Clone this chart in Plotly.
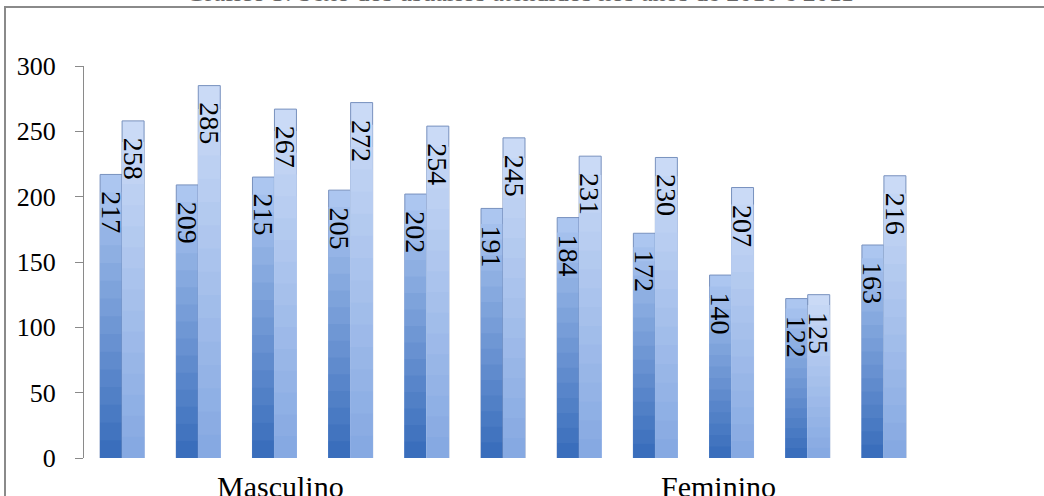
import plotly.graph_objects as go

# ---- data ----
groups = ["Grupo 1", "Grupo 2", "Grupo 3", "Grupo 4", "Grupo 5", "Grupo 6",
          "Grupo 7", "Grupo 8", "Grupo 9", "Grupo 10", "Grupo 11"]
series_names = ["Série 1", "Série 2"]
serie1 = [217, 209, 215, 205, 202, 191, 184, 172, 140, 122, 163]
serie2 = [258, 285, 267, 272, 254, 245, 231, 230, 207, 125, 216]
sex_labels = ["Masculino", "Feminino"]
y_ticks = [0, 50, 100, 150, 200, 250, 300]
title_text = "Gráfico 3. Sexo dos usuários atendidos nos anos de 2010 e 2011"

# ---- styling ----
W, H = 1044, 496
ML, MR, MT, MB = 84, 122, 66, 38
FONT = "Liberation Serif, Times New Roman, serif"

# gradient (top colour -> bottom colour) for each series
grad = [((0xAC, 0xC6, 0xF0), (0x3A, 0x6E, 0xBC)),
        ((0xCA, 0xDA, 0xF6), (0x86, 0xA9, 0xE2))]
STEPS = 16


def mix(c1, c2, t):
    return "rgb(%d,%d,%d)" % tuple(round(a + (b - a) * t) for a, b in zip(c1, c2))


fig = go.Figure()
for si, vals in enumerate([serie1, serie2]):
    top_c, bot_c = grad[si]
    for k in range(STEPS):
        frac = 1 - k / STEPS
        fig.add_trace(go.Bar(
            x=groups,
            y=[v * frac for v in vals],
            name=series_names[si],
            offsetgroup=str(si),
            marker=dict(color=mix(top_c, bot_c, k / (STEPS - 1)),
                        line=dict(width=1 if k == 0 else 0, color="rgb(120,145,190)")),
            showlegend=False,
            hoverinfo="skip" if k else None,
        ))

# value labels (rotated, inside the top of each bar)
for si, vals in enumerate([serie1, serie2]):
    for g, v in zip(groups, vals):
        fig.add_annotation(
            x=g, y=v, xref="x", yref="y",
            text=str(v), textangle=90, showarrow=False,
            xshift=-11 if si == 0 else 11, yshift=-15,
            yanchor="top", xanchor="center",
            font=dict(family=FONT, size=28, color="black"),
        )

pw, ph = W - ML - MR, H - MT - MB

# sex labels under the bars
for lab, px in zip(sex_labels, [280, 718]):
    fig.add_annotation(
        x=(px - ML) / pw, y=(H - MB - 468) / ph,
        xref="paper", yref="paper", text=lab, showarrow=False,
        xanchor="center", yanchor="top",
        font=dict(family=FONT, size=30, color="black"),
    )

# title (cut off at the top of the image)
fig.add_annotation(
    x=(520 - ML) / pw, y=(H - MB - 9.5) / ph,
    xref="paper", yref="paper", text=title_text, showarrow=False,
    xanchor="center", yanchor="bottom",
    font=dict(family=FONT, size=26, color="#666666"),
)

# chart-area frame
fig.add_shape(type="rect", xref="paper", yref="paper",
              x0=(5 - ML) / pw, x1=1.5, y0=-0.5, y1=(H - MB - 7) / ph,
              line=dict(color="#8a8a8a", width=2), fillcolor="rgba(0,0,0,0)")

fig.update_layout(
    width=W, height=H,
    margin=dict(l=ML, r=MR, t=MT, b=MB, pad=0),
    barmode="group", bargap=0.4226, bargroupgap=0,
    plot_bgcolor="white", paper_bgcolor="white",
    showlegend=False,
    font=dict(family=FONT, color="black"),
)
fig.update_xaxes(type="category", showticklabels=False, showline=False, showgrid=False,
                 zeroline=False, ticks="")
fig.update_yaxes(range=[0, 300], tickvals=y_ticks, showgrid=False, zeroline=False,
                 showline=True, linecolor="#8a8a8a", linewidth=1,
                 ticks="outside", ticklen=8, tickcolor="#8a8a8a",
                 ticklabelstandoff=14,
                 tickfont=dict(family=FONT, size=26, color="black"))

fig.write_html("out.html")
